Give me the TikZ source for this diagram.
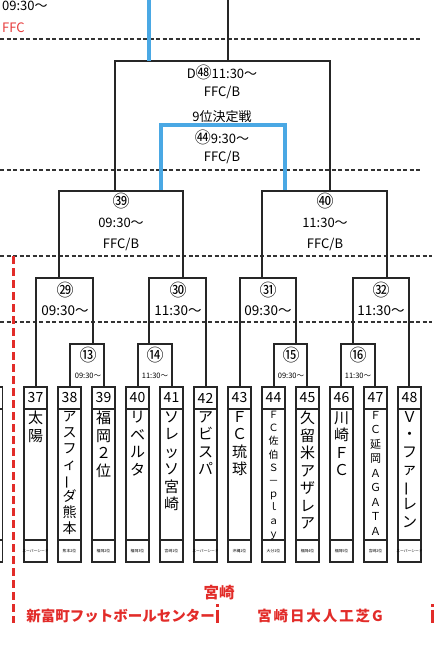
\documentclass[tikz,border=0pt]{standalone}
\usepackage{fontspec}
\usepackage{graphicx}
\setmainfont{Noto Sans CJK JP}
\definecolor{myblue}{RGB}{74,168,228}
\definecolor{myred}{RGB}{226,44,41}
\definecolor{lred}{RGB}{230,60,60}
\newcommand\vbar{\rotatebox[origin=c]{90}{ー}}
\newcommand\bigc[1]{{\fontsize{16}{13}\selectfont #1}}
\newcommand\mybracket[7][]{%
  \coordinate (#2-tl) at (#3,#5);
  \coordinate (#2-tr) at (#4,#5);
  \coordinate (#2-bl) at (#3,#6);
  \coordinate (#2-br) at (#4,#7);
  \draw[bk,#1] (#2-bl) -- (#2-tl) -- (#2-tr) -- (#2-br);}
\newcommand\teambox[5]{%
  \node[tbox] (t#1) at (#2,474.5) {};
  \draw[bk] ([yshift=-22pt]t#1.north west) -- ([yshift=-22pt]t#1.north east);
  \draw[bk] ([yshift=22pt]t#1.south west) -- ([yshift=22pt]t#1.south east);
  \node[numtxt] (n#1) at ([yshift=-11pt]t#1.north) {#1};
  \node[nametxt,#5] (m#1) at ([yshift=-24pt]t#1.north) {#3};
  \node[labtxt] (l#1) at ([yshift=11pt]t#1.south) {#4};}
\begin{document}
\begin{tikzpicture}[x=1pt,y=-1pt,
  bk/.style={line width=1.3pt,black!85,line cap=rect},
  blu/.style={line width=3.6pt,myblue},
  dline/.style={line width=1.1pt,black!80,dash pattern=on 4pt off 2.5pt},
  rdash/.style={line width=3pt,myred,dash pattern=on 8pt off 4pt},
  tbox/.style={draw,line width=1.3pt,black!85,minimum width=23pt,minimum height=175pt,inner sep=0pt,outer sep=0pt},
  numtxt/.style={font=\fontsize{14}{14}\selectfont,inner sep=0pt},
  nametxt/.style={font=\fontsize{15}{17.5}\selectfont,anchor=north,align=center,inner sep=0pt},
  labtxt/.style={font=\fontsize{3.8}{4}\selectfont,inner sep=0pt},
  mtxt/.style={font=\fontsize{13}{13}\selectfont,inner sep=0pt},
  btxt/.style={font=\fontsize{13.5}{13.5}\selectfont,inner sep=0pt},
  circ/.style={font=\fontsize{17}{17}\selectfont,inner sep=0pt},
  stxt/.style={font=\fontsize{7.5}{7.5}\selectfont,inner sep=0pt},
  rtxt/.style={font=\fontsize{14.5}{14.5}\selectfont\bfseries,text=myred,inner sep=0pt}]
\useasboundingbox (0,0) rectangle (443,650);
\clip (0,0) rectangle (443,650);
% top-left cut texts
\node[mtxt,anchor=west] (tl1) at (2,6) {09:30～};
\node[mtxt,anchor=west,text=lred] (tl2) at (2,28) {FFC};
% dashed guide lines
\coordinate (d1a) at (0,39); \coordinate (d1b) at (421,39);
\coordinate (d2a) at (0,170); \coordinate (d2b) at (421,170);
\coordinate (d3a) at (0,256); \coordinate (d3b) at (432,256);
\coordinate (d4a) at (0,322); \coordinate (d4b) at (432,322);
\draw[dline] (d1a) -- (d1b);
\draw[dline] (d2a) -- (d2b);
\draw[dline] (d3a) -- (d3b);
\draw[dline] (d4a) -- (d4b);
% incoming lines at top
\coordinate (inb) at (149,0); \coordinate (ink) at (228,0);
% final (D48)
\mybracket{f48}{115}{330}{61}{191}{191}
\draw[blu] (inb) -- (149,61);
\draw[bk] (ink) -- (228,61);
\node[mtxt] (f48a) at (222,72) {D\bigc{㊽}11:30～};
\node[mtxt] (f48b) at (222,93) {FFC/B};
\node[mtxt] (f48c) at (222,117) {9位決定戦};
% 44 (blue)
\mybracket[blu,line cap=butt]{f44}{161}{285}{125}{191}{191}
\node[mtxt] (f44a) at (222,137) {\bigc{㊹}9:30～};
\node[mtxt] (f44b) at (222,158) {FFC/B};
% 39, 40
\mybracket{g39}{59}{183}{191}{278}{278}
\mybracket{g40}{262}{387}{191}{278}{278}
\node[circ] (g39a) at (121,201) {㊴};
\node[mtxt] (g39b) at (121,223) {09:30～};
\node[mtxt] (g39c) at (121,245) {FFC/B};
\node[circ] (g40a) at (325,201) {㊵};
\node[mtxt] (g40b) at (325,223) {11:30～};
\node[mtxt] (g40c) at (325,245) {FFC/B};
% 29 - 32
\mybracket{h29}{36}{93}{278}{387}{344}
\mybracket{h30}{149}{206}{278}{344}{387}
\mybracket{h31}{240}{296}{278}{387}{344}
\mybracket{h32}{353}{409}{278}{344}{387}
\node[circ] (h29a) at (65,290) {㉙};
\node[btxt] (h29b) at (65,311) {09:30～};
\node[circ] (h30a) at (178,290) {㉚};
\node[btxt] (h30b) at (178,311) {11:30～};
\node[circ] (h31a) at (268,290) {㉛};
\node[btxt] (h31b) at (268,311) {09:30～};
\node[circ] (h32a) at (381,290) {㉜};
\node[btxt] (h32b) at (381,311) {11:30～};
% 13 - 16
\mybracket{k13}{70}{104}{344}{387}{387}
\mybracket{k14}{138}{172}{344}{387}{387}
\mybracket{k15}{274}{307}{344}{387}{387}
\mybracket{k16}{341}{375}{344}{387}{387}
\node[circ] (k13a) at (88,355) {⑬};
\node[stxt] (k13b) at (88,376) {09:30～};
\node[circ] (k14a) at (155,355) {⑭};
\node[stxt] (k14b) at (155,376) {11:30～};
\node[circ] (k15a) at (291,355) {⑮};
\node[stxt] (k15b) at (291,376) {09:30～};
\node[circ] (k16a) at (358,355) {⑯};
\node[stxt] (k16b) at (358,376) {11:30～};
% partial box at far left
\node[tbox] (t36) at (-9,474.5) {};
\draw[bk] ([yshift=-22pt]t36.north west) -- ([yshift=-22pt]t36.north east);
\draw[bk] ([yshift=22pt]t36.south west) -- ([yshift=22pt]t36.south east);
% team boxes
\teambox{37}{35.5}{太\\陽}{スーパーシード}{}
\teambox{38}{69.5}{ア\\ス\\フ\\ィ\\\vbar\\ダ\\熊\\本}{熊本2位}{font=\fontsize{14}{16}\selectfont}
\teambox{39}{103.5}{福\\岡\\２\\位}{福岡2位}{}
\teambox{40}{137.5}{リ\\ベ\\ル\\タ}{福岡3位}{}
\teambox{41}{171.5}{ソ\\レ\\ッ\\ソ\\宮\\崎}{宮崎1位}{}
\teambox{42}{205.5}{ア\\ビ\\ス\\パ}{スーパーシード}{}
\teambox{43}{239.5}{Ｆ\\Ｃ\\琉\\球}{沖縄1位}{}
\teambox{44}{273.5}{Ｆ\\Ｃ\\佐\\伯\\Ｓ\\－\\ｐ\\ｌ\\ａ\\ｙ}{大分1位}{font=\fontsize{10}{13.2}\selectfont}
\teambox{45}{307.5}{久\\留\\米\\ア\\ザ\\レ\\ア}{福岡4位}{}
\teambox{46}{341.5}{川\\崎\\Ｆ\\Ｃ}{福岡5位}{}
\teambox{47}{375.5}{Ｆ\\Ｃ\\延\\岡\\Ａ\\Ｇ\\Ａ\\Ｔ\\Ａ}{宮崎2位}{font=\fontsize{11}{14.5}\selectfont}
\teambox{48}{409.5}{Ｖ\\・\\フ\\ァ\\\vbar\\レ\\ン}{スーパーシード}{}
% red venue divider and venue names
\coordinate (r1a) at (13,256); \coordinate (r1b) at (13,623);
\draw[rdash] (r1a) -- (r1b);
\coordinate (r2a) at (217,604); \coordinate (r2b) at (217,623);
\draw[line width=3pt,myred,dash pattern=on 2.5pt off 3pt on 20pt] (r2a) -- (r2b);
\coordinate (r3a) at (432,604); \coordinate (r3b) at (432,623);
\draw[line width=3pt,myred,dash pattern=on 2.5pt off 3pt on 20pt] (r3a) -- (r3b);
\node[rtxt,font=\fontsize{15.5}{15.5}\selectfont\bfseries] (v0) at (219,593) {宮崎};
\node[rtxt] (v1) at (120.5,616) {新富町フットボールセンター};
\node[rtxt] (v2) at (320,616) {\addfontfeature{LetterSpace=13}宮崎日大人工芝G};
\end{tikzpicture}
\end{document}
